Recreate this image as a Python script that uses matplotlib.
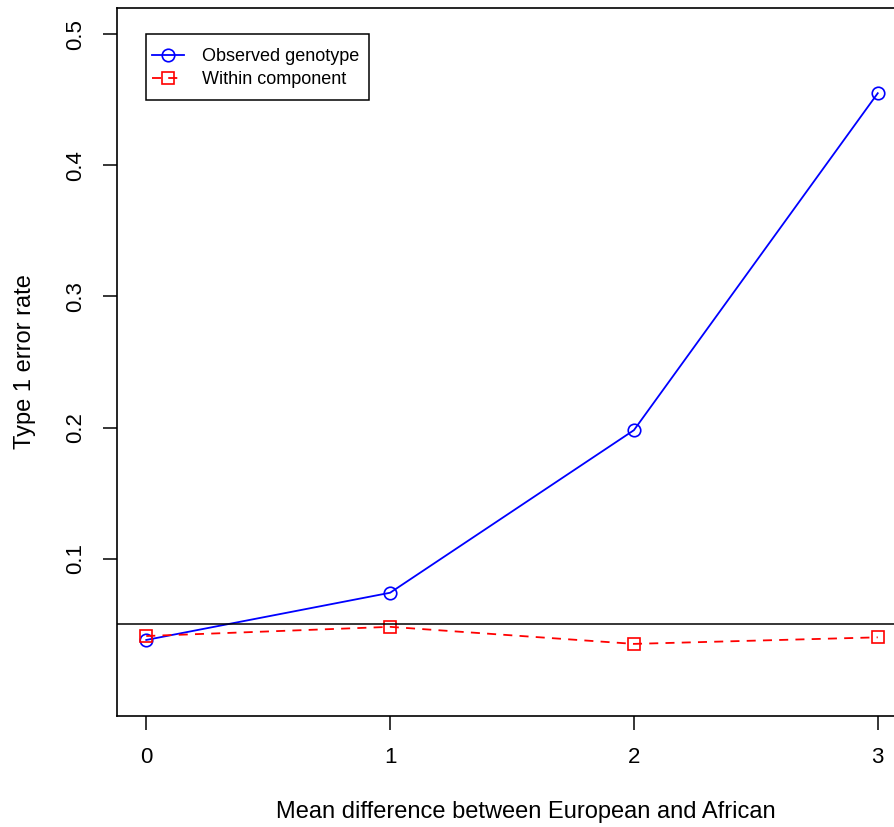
import matplotlib
matplotlib.use("Agg")
import matplotlib.pyplot as plt
from matplotlib.patches import Rectangle

plt.rcParams['font.family'] = ['Liberation Sans', 'DejaVu Sans']

mean_diff = [0, 1, 2, 3]
observed = [0.038, 0.074, 0.198, 0.455]
within = [0.041, 0.048, 0.035, 0.040]
y_ticks = [0.1, 0.2, 0.3, 0.4, 0.5]
alpha = 0.05

fig = plt.figure(figsize=(8.95, 8.27), dpi=100)
ax = fig.add_axes([117 / 895, 111 / 827, (907 - 117) / 895, (716 - 8) / 827])

ax.plot(mean_diff, observed, color='blue', lw=1.3, marker='o', ms=9,
        mfc='none', mec='blue', mew=1.2, label='Observed genotype')
ax.plot(mean_diff, within, color='red', lw=1.3, ls=(0, (5, 4)), marker='s', ms=8,
        mfc='none', mec='red', mew=1.2, label='Within component')
ax.axhline(alpha, color='black', lw=1.1)

ax.set_xlim(-0.12, 3.12)
ax.set_ylim(-0.02, 0.52)
ax.set_xticks(mean_diff)
ax.set_xticklabels([str(v) for v in mean_diff])
ax.set_yticks(y_ticks)
ax.set_yticklabels([str(v) for v in y_ticks], rotation=90, va='center')
ax.tick_params(direction='out', length=10, width=1.1, labelsize=16, pad=12)
for sp in ax.spines.values():
    sp.set_linewidth(1.2)

fig.text(526 / 895, 1 - 812 / 827, 'Mean difference between European and African',
         fontsize=17, ha='center', va='center')
fig.text(25 / 895, 1 - 362 / 827, 'Type 1 error rate', fontsize=17,
         rotation=90, ha='center', va='center')

# legend box drawn by hand (R style: tight sides, taller top/bottom)
ax.add_patch(Rectangle((0.0367, 0.870), 0.2823, 0.093, transform=ax.transAxes,
                       fill=False, edgecolor='black', lw=1.1, zorder=5))
leg = ax.legend(loc='upper left', bbox_to_anchor=(0.044, 0.9435), fontsize=13,
                frameon=False, borderpad=0, handlelength=1.8, handletextpad=1.0,
                labelspacing=0.35, borderaxespad=0)

fig.savefig('out.png', dpi=100)
